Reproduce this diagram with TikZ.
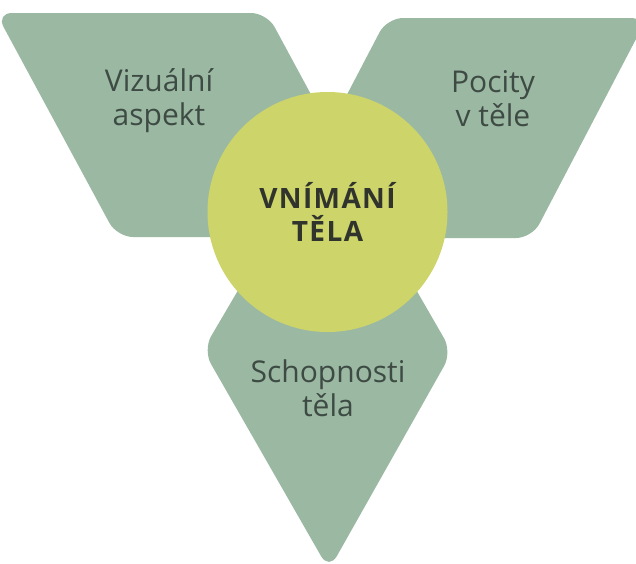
\documentclass[tikz,border=0pt]{standalone}
\usepackage{fontspec}
\setmainfont{Open Sans}
\definecolor{sage}{HTML}{9BB9A2}
\definecolor{corelime}{HTML}{CCD46A}
\definecolor{labeltext}{HTML}{3E4B44}
\definecolor{coretext}{HTML}{30342D}
\tikzset{
	petal/.style={fill=sage, draw=none, rounded corners=16pt},
	petallabel/.style={align=center, text=labeltext, anchor=base,
			font=\fontsize{30}{34}\selectfont},
	core/.style={circle, fill=corelime, minimum size=240pt, inner sep=0pt,
			align=center, text=coretext,
			font=\bfseries\fontsize{28}{33}\selectfont\addfontfeatures{LetterSpace=5}}
}
\begin{document}
\begin{tikzpicture}[x=1pt, y=-1pt]
		% Fix the frame of the picture
		\useasboundingbox (0,0) rectangle (636,563);
		\clip (0,0) rectangle (636,563);

		% Draw the three petals
		\fill[petal] (-4,13) -- (267,13) -- (388,237) -- (117,237) -- cycle;
		\fill[petal] (387,18) -- (647,18) -- (532,238) -- (272,238) -- cycle;
		\fill[petal] (203,350) -- (328,137) -- (452,352) -- (329,570) -- cycle;

		% Label the petals (base is the last line)
		\node[petallabel] (visual) at (159,125) {Vizuální\\aspekt};
		\node[petallabel] (feelings) at (493,126) {Pocity\\v těle};
		\node[petallabel] (abilities) at (328,416) {Schopnosti\\těla};

		% Draw the central circle with its title
		\node[core] (body) at (327.5,212) {VNÍMÁNÍ\\TĚLA};
	\end{tikzpicture}
\end{document}
